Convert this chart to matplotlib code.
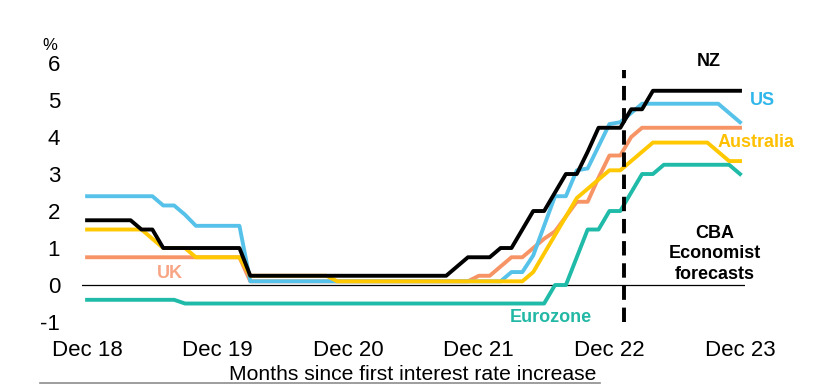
import numpy as np
import matplotlib
matplotlib.use("Agg")
import matplotlib.pyplot as plt
from matplotlib.lines import Line2D

plt.rcParams['font.family'] = ['Liberation Sans', 'DejaVu Sans']
plt.rcParams['axes.unicode_minus'] = False

# monthly policy rates, Dec 18 (month 0) .. Dec 23 (month 60)
months = np.arange(61)
tick_months = [0, 12, 24, 36, 48, 60]
tick_labels = ["Dec 18", "Dec 19", "Dec 20", "Dec 21", "Dec 22", "Dec 23"]
forecast_start = 49.35

us = ([2.4] * 7 + [2.15, 2.15, 1.9] + [1.6] * 5 + [0.1] * 24
      + [0.35, 0.35, 0.8, 1.6, 2.4, 2.4, 3.1, 3.15, 3.75, 4.35, 4.4, 4.65, 4.9]
      + [4.9] * 7 + [4.65, 4.4])
nz = ([1.75] * 5 + [1.5, 1.5] + [1.0] * 8 + [0.25] * 19
      + [0.5, 0.75, 0.75, 0.75, 1.0, 1.0, 1.5, 2.0, 2.0, 2.5, 3.0, 3.0, 3.6,
         4.25, 4.25, 4.25, 4.75, 4.75]
      + [5.25] * 9)
australia = ([1.5] * 6 + [1.25] + [1.0] * 3 + [0.75] * 5 + [0.25] * 8 + [0.1] * 18
             + [0.35, 0.85, 1.35, 1.85, 2.35, 2.6, 2.85, 3.1, 3.1, 3.35, 3.6]
             + [3.85] * 6 + [3.6, 3.35, 3.35])
uk = ([0.75] * 15 + [0.1] * 21
      + [0.25, 0.25, 0.5, 0.75, 0.75, 1.0, 1.25, 1.45, 1.85, 2.25, 2.25, 2.9,
         3.5, 3.5, 4.0]
      + [4.25] * 10)
eurozone = ([-0.4] * 9 + [-0.5] * 34
            + [0.0, 0.0, 0.75, 1.5, 1.5, 2.0, 2.0, 2.5, 3.0, 3.0]
            + [3.25] * 7 + [3.0])


def main():
    fig = plt.figure(figsize=(8.18, 3.85), dpi=100)
    ax = fig.add_axes([0.0998, 0.1636, 0.8115, 0.6727])

    # lines (drawing order matters where they overlap)
    ax.plot(months, eurozone, color="#1FBBA8", lw=2.8, zorder=3)
    ax.plot(months, uk, color="#F79465", lw=2.8, zorder=4)
    ax.plot(months, us, color="#56C2EA", lw=2.8, zorder=5)
    ax.plot(months, australia, color="#FFC800", lw=2.8, zorder=6)
    ax.plot(months, nz, color="black", lw=2.8, zorder=7)

    ax.axhline(0, color="black", lw=0.9, zorder=2)
    ax.plot([forecast_start, forecast_start], [-1.0, 5.8], color="black", lw=2.8,
            linestyle=(0, (3.7, 2.0)), zorder=8, clip_on=False)

    # series labels
    bold = dict(fontsize=13, fontweight="bold", ha="center", va="center")
    ax.text(57.1, 6.04, "NZ", color="black", **bold)
    ax.text(62.1, 5.0, "US", color="#2FB6EA", **bold)
    ax.text(61.5, 3.84, "Australia", color="#FFC000", **bold)
    ax.text(7.6, 0.32, "UK", color="#F8A585", **bold)
    ax.text(42.6, -0.89, "Eurozone", color="#22B8A5", **bold)
    ax.text(57.7, 0.84, "CBA\nEconomist\nforecasts", color="black",
            linespacing=1.25, **bold)

    ax.set_xlim(-0.5, 60.5)
    ax.set_ylim(-1, 6)
    ax.set_xticks(tick_months)
    ax.set_xticklabels(tick_labels)
    ax.set_yticks(range(-1, 7))
    ax.tick_params(axis="both", length=0, labelsize=16)
    ax.tick_params(axis="y", pad=15.5)
    ax.tick_params(axis="x", pad=13)
    for s in ax.spines.values():
        s.set_visible(False)

    fig.text(49.5 / 818, 1 - 45 / 385, "%", fontsize=12, ha="center", va="center")
    fig.text(413 / 818, 1 - 374 / 385, "Months since first interest rate increase",
             fontsize=15.2, ha="center", va="center")
    fig.add_artist(Line2D([40 / 818, 600 / 818], [1 - 383 / 385, 1 - 383 / 385],
                          color="#8C8C8C", lw=1.2))

    fig.savefig("out.png", dpi=100)


if __name__ == "__main__":
    main()
